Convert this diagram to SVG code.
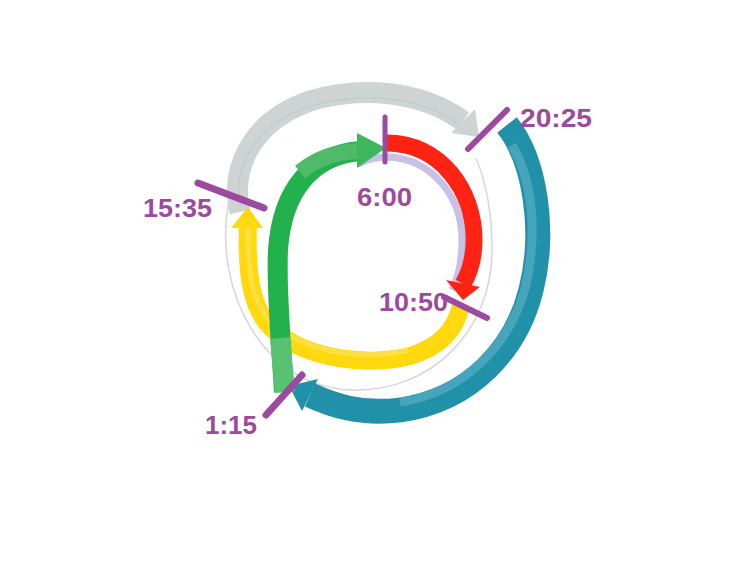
<svg xmlns="http://www.w3.org/2000/svg" width="737" height="570" viewBox="0 0 737 570">
<style>
.band{fill:none;stroke-linecap:butt;stroke-linejoin:round}
.tick{stroke:#9C4A9F;stroke-linecap:round;fill:none}
.lbl{font-family:"Liberation Sans",Arial,sans-serif;font-weight:bold;font-size:26px;fill:#9C4A9F}
</style>
<rect width="737" height="570" fill="#FFFFFF"/>
<g id="guide-ring">
<path d="M228 205 C214 290 262 386 350 390 C432 393 492 330 492 250 C492 212 486 182 476 158" fill="none" stroke="#D6D6D6" stroke-width="1.5"/>
</g>
<g id="gray-arc">
<path class="band" d="M240 212 C230 170 250 122 310 101 C360 86 420 90 463 121" stroke="#CDD4D3" stroke-width="21"/>
<path class="band" d="M240 205 C233 170 252 126 310 106 C360 92 420 95 458 124" stroke="#C2CACA" stroke-width="1.2"/>
<polygon points="475,109 451,133 479,137" fill="#CDD4D3"/>
</g>
<g id="lavender-arc">
<path class="band" d="M358 164 C370 158 380 157 387 157 C430 158 462 195 462 240 C462 262 458 278 452 290" stroke="#C9C0E6" stroke-width="7"/>
</g>
<g id="red-arc">
<path class="band" d="M387 143 C440 143 474 190 474 240 C474 258 470 272 463 284" stroke="#FF2314" stroke-width="17"/>
<polygon points="446,280 480,287 463,300" fill="#FF2314"/>
</g>
<g id="yellow-arc">
<path class="band" d="M248 222 C246 270 250 312 276 332 C310 360 370 366 410 356 C440 347 456 330 461 305" stroke="#FFD80D" stroke-width="18"/>
<path class="band" d="M248 226 C247 270 252 310 278 328 C312 354 370 360 408 350" stroke="#FFE45C" stroke-width="5" opacity="0.7"/>
<polygon points="231,228 248,207 263,228" fill="#FFD80D"/>
</g>
<g id="teal-arc">
<path class="band" d="M507 125 C535 160 546 230 531 290 C516 350 470 400 400 410 C360 415 332 405 310 395" stroke="#2191AA" stroke-width="25"/>
<path class="band" d="M512 145 C532 180 538 230 526 285 C512 340 468 392 400 402" stroke="#5CB2C6" stroke-width="9" opacity="0.6"/>
<polygon points="318,379 289,386 302,411" fill="#2191AA"/>
</g>
<g id="green-arc">
<path class="band" d="M284 392 C281 340 276 290 278 250 C282 190 312 155 360 151" stroke="#22B14C" stroke-width="20"/>
<path class="band" d="M285 392 C283 370 281 350 280 338" stroke="#5BC172" stroke-width="20"/>
<path class="band" d="M300 172 C318 158 335 152 358 151" stroke="#4DBB67" stroke-width="16"/>
<polygon points="357,133 386,148 357,168" fill="#3DB65C"/>
</g>
<g id="ticks">
<line class="tick" x1="385" y1="117" x2="385" y2="162" stroke-width="5"/>
<line class="tick" x1="198" y1="183" x2="264" y2="208" stroke-width="7"/>
<line class="tick" x1="507" y1="110" x2="468" y2="149" stroke-width="6"/>
<line class="tick" x1="444" y1="297" x2="487" y2="318" stroke-width="6"/>
<line class="tick" x1="302" y1="375" x2="266" y2="415" stroke-width="7"/>
</g>
<g id="labels">
<text class="lbl" x="520" y="127" textLength="72" lengthAdjust="spacingAndGlyphs">20:25</text>
<text class="lbl" x="143" y="217" textLength="69" lengthAdjust="spacingAndGlyphs">15:35</text>
<text class="lbl" x="357" y="206" textLength="55" lengthAdjust="spacingAndGlyphs">6:00</text>
<text class="lbl" x="379" y="311" textLength="69" lengthAdjust="spacingAndGlyphs">10:50</text>
<text class="lbl" x="205" y="434" textLength="52" lengthAdjust="spacingAndGlyphs">1:15</text>
</g>
</svg>
